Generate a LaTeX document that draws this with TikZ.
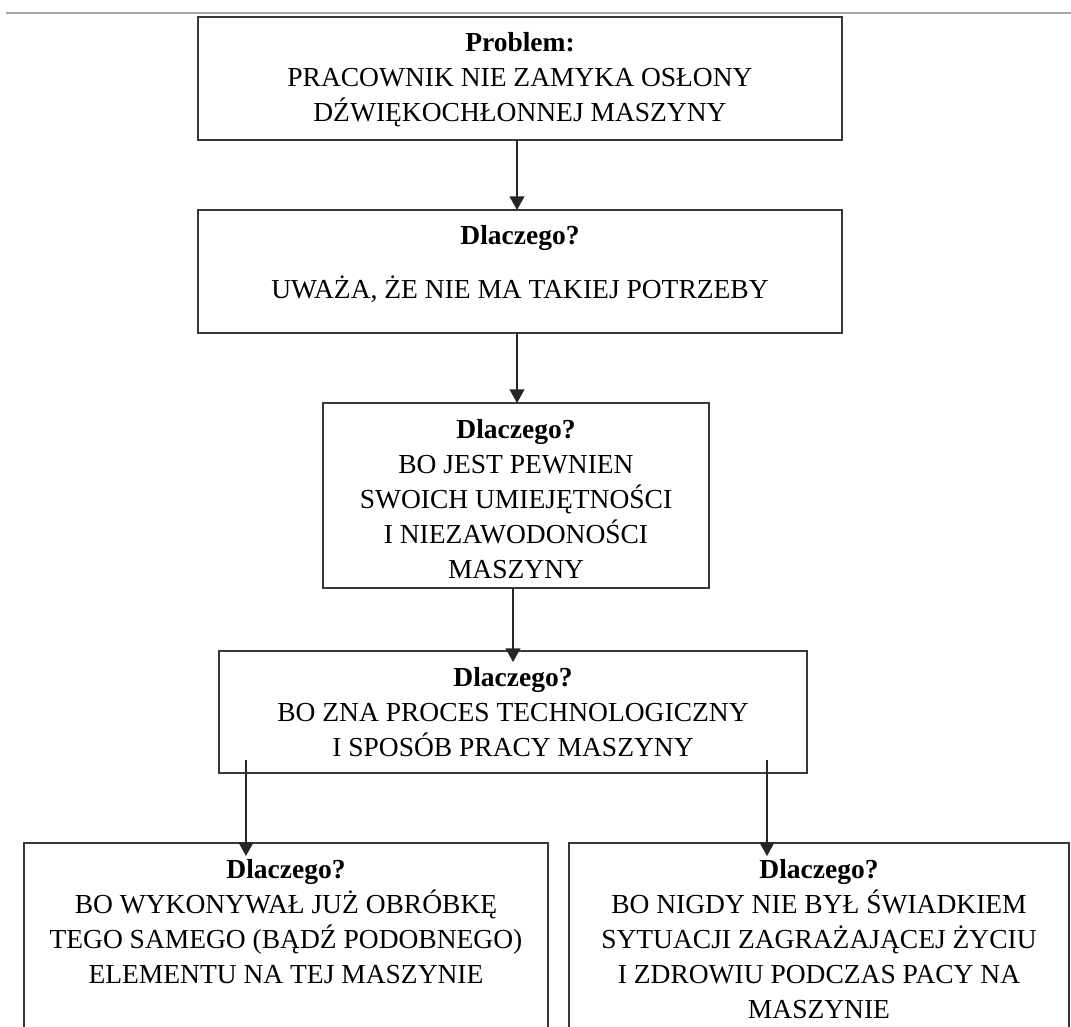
\documentclass[tikz,border=0pt]{standalone}
\usepackage{fontspec}
\setmainfont{Liberation Serif}
\usetikzlibrary{arrows.meta}
\tikzset{
  box/.style={draw=black!78, line width=1pt, rectangle, inner sep=0pt, outer sep=0pt},
  txt/.style={anchor=north, align=center, inner sep=0pt, outer sep=0pt,
    font=\fontsize{13.75}{17.5}\selectfont},
  arr/.style={draw=black!85, line width=0.8pt, -{Triangle[length=6.8pt,width=7.4pt]}},
}
\begin{document}
\begin{tikzpicture}[x=0.5pt,y=-0.5pt]
\useasboundingbox (0,0) rectangle (1071,1027);
\clip (0,0) rectangle (1071,1027);
% top rule
\draw[line width=1pt, draw=black!35] (6,13) coordinate (rl) -- (1071,13) coordinate (rr);
% boxes
\node[box, minimum width=322pt, minimum height=61.25pt] (b1) at (520,78.75) {};
\node[box, minimum width=322pt, minimum height=61.5pt] (b2) at (520,271.5) {};
\node[box, minimum width=193pt, minimum height=92.5pt] (b3) at (516,495.5) {};
\node[box, minimum width=293.75pt, minimum height=61pt] (b4) at (513,712) {};
\node[box, minimum width=262pt, minimum height=101pt] (b5) at (286,944) {};
\node[box, minimum width=250pt, minimum height=101pt] (b6) at (819,944) {};
% texts
\node[txt] (t1) at (520,27.5) {\strut\textbf{Problem:}\\PRACOWNIK NIE ZAMYKA OSŁONY\\DŹWIĘKOCHŁONNEJ MASZYNY};
\node[txt] (t2) at (520,220.5) {\strut\textbf{Dlaczego?}\\[9.5pt]UWAŻA, ŻE NIE MA TAKIEJ POTRZEBY};
\node[txt] (t3) at (516,413.5) {\strut\textbf{Dlaczego?}\\BO JEST PEWNIEN\\SWOICH UMIEJĘTNOŚCI\\I NIEZAWODONOŚCI\\MASZYNY};
\node[txt] (t4) at (513,661.5) {\strut\textbf{Dlaczego?}\\BO ZNA PROCES TECHNOLOGICZNY\\I SPOSÓB PRACY MASZYNY};
\node[txt] (t5) at (286,853.5) {\strut\textbf{Dlaczego?}\\BO WYKONYWAŁ JUŻ OBRÓBKĘ\\TEGO SAMEGO (BĄDŹ PODOBNEGO)\\ELEMENTU NA TEJ MASZYNIE};
\node[txt] (t6) at (819,853.5) {\strut\textbf{Dlaczego?}\\BO NIGDY NIE BYŁ ŚWIADKIEM\\SYTUACJI ZAGRAŻAJĄCEJ ŻYCIU\\I ZDROWIU PODCZAS PACY NA\\MASZYNIE};
% connectors
\draw[arr] ([xshift=-1.5pt]b1.south) -- ([xshift=-1.5pt]b2.north);
\draw[arr] ([xshift=-1.5pt]b2.south) -- ([xshift=-1.5pt]b2.south |- b3.north);
\draw[arr, shorten >=-5.5pt] (b3.south -| b4.north) -- (b4.north);
\coordinate (s5) at (246,760);
\coordinate (s6) at (767,760);
\draw[arr, shorten >=-6.5pt] (s5) -- (s5 |- b5.north);
\draw[arr, shorten >=-6.5pt] (s6) -- (s6 |- b6.north);
\end{tikzpicture}
\end{document}
